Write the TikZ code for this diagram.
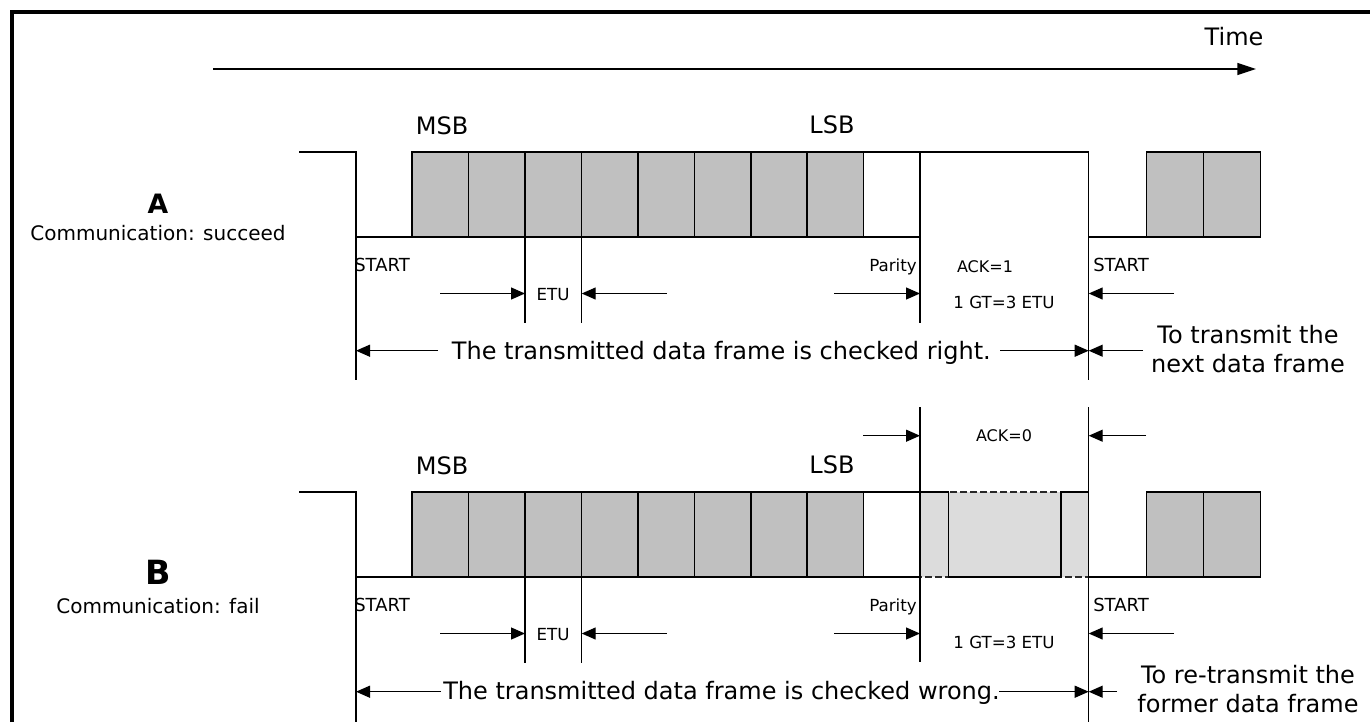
\documentclass[tikz,border=0pt]{standalone}
\usepackage{fontspec}
\setmainfont{DejaVu Sans}
\usetikzlibrary{arrows.meta}
\definecolor{bitgray}{RGB}{192,192,192}
\definecolor{ackgray}{RGB}{220,220,220}
\definecolor{dashgray}{RGB}{40,40,40}
\tikzset{
  wave/.style={line width=1.1pt},
  bitbox/.style={draw=black, line width=1.1pt, fill=bitgray},
  dimarrow/.style={line width=0.95pt, -{Triangle[length=10.5pt,width=9pt]}},
  timearrow/.style={line width=1pt, -{Triangle[length=14pt,width=9pt]}},
  bigtext/.style={font=\fontsize{18}{21}\selectfont, inner sep=0pt, anchor=base},
  smalltext/.style={font=\fontsize{12.5}{15}\selectfont, inner sep=0pt, anchor=base},
  acktext/.style={font=\fontsize{12}{14}\selectfont, inner sep=0pt, anchor=base},
  starttext/.style={font=\fontsize{13.5}{16}\selectfont, inner sep=0pt, anchor=base west},
  commtext/.style={font=\fontsize{15}{18}\selectfont, inner sep=0pt, anchor=base},
  labeltext/.style={font=\bfseries\fontsize{#1}{#1}\selectfont, inner sep=0pt, anchor=base},
}
\begin{document}
\begin{tikzpicture}[x=0.75pt,y=-0.75pt]
\useasboundingbox (0,0) rectangle (1370,722);
% frame
\draw[line width=3pt] (11.5,722) -- (11.5,11.5) -- (1370,11.5);

% time axis
\coordinate (t0) at (213,69);
\coordinate (t1) at (1256,69);
\draw[timearrow] (t0) -- (t1);
\node[bigtext] (time) at (1234,45) {Time};

% row labels
\node[labeltext=20] (labA) at (158,213) {A};
\node[commtext] (commA) at (158,240) {Communication: succeed};
\node[labeltext=25] (labB) at (158,584) {B};
\node[commtext] (commB) at (158,613) {Communication: fail};

% B: ACK=0 pulled-low region (drawn first, below lines)
\fill[ackgray] (920,492) rectangle (1088.7,577);
\draw[line width=1.1pt, dashgray, dash pattern=on 5.5pt off 2pt] (920,492) rectangle (1088.7,577);
\draw[wave] (920,492) -- (948.3,492) -- (948.3,577) -- (1061,577) -- (1061,492) -- (1088.7,492);

\foreach \r/\oy in {a/0,b/340}{
  % waveform
  \draw[wave] (299,{152+\oy}) -- (356,{152+\oy}) -- (356,{237+\oy}) -- (412,{237+\oy});
  \foreach \i in {0,...,7}
    \draw[bitbox] ({412+56.46*\i},{152+\oy}) rectangle ({412+56.46*(\i+1)},{237+\oy});
  \draw[wave] (863.7,{152+\oy}) -- (920,{152+\oy});
  \draw[wave] (863.7,{237+\oy}) -- (920,{237+\oy});
  \draw[wave] (1088.7,{237+\oy}) -- (1146.5,{237+\oy});
  \draw[bitbox] (1146.5,{152+\oy}) rectangle (1203.5,{237+\oy});
  \draw[bitbox] (1203.5,{152+\oy}) rectangle (1260.5,{237+\oy});
  % ETU marker lines
  \draw[wave] (525,{237+\oy}) -- (525,{322.7+\oy});
  \draw[wave] (581.7,{237+\oy}) -- (581.7,{322.7+\oy});
  % labels
  \node[bigtext] (msb\r) at (442,{134+\oy}) {MSB};
  \node[bigtext] (lsb\r) at (832,{133.5+\oy}) {LSB};
  \node[starttext] (st\r) at (354,{271+\oy}) {START};
  \node[smalltext] (etu\r) at (553,{300+\oy}) {ETU};
  \node[smalltext, anchor=base east] (par\r) at (917,{271.5+\oy}) {Parity};
  \node[starttext] (sttwo\r) at (1093,{271.5+\oy}) {START};
  \node[smalltext] (gt\r) at (1004,{308+\oy}) {1 GT=3 ETU};
  % dimension arrows
  \coordinate (eas\r) at (440,{293.5+\oy});   \coordinate (eae\r) at (525,{293.5+\oy});
  \coordinate (ebs\r) at (666.7,{293.5+\oy}); \coordinate (ebe\r) at (581.7,{293.5+\oy});
  \coordinate (pas\r) at (834,{293.5+\oy});   \coordinate (pae\r) at (920,{293.5+\oy});
  \coordinate (pbs\r) at (1174,{293.5+\oy});  \coordinate (pbe\r) at (1088.7,{293.5+\oy});
  \draw[dimarrow] (eas\r) -- (eae\r);
  \draw[dimarrow] (ebs\r) -- (ebe\r);
  \draw[dimarrow] (pas\r) -- (pae\r);
  \draw[dimarrow] (pbs\r) -- (pbe\r);
}

% row A specifics
\draw[wave] (920,152) -- (1088.7,152);
\draw[wave] (356,152) -- (356,380);
\draw[wave] (920,152) -- (920,322.7);
\draw[wave] (1088.7,152) -- (1088.7,380);
\node[acktext] (ackone) at (985,272) {ACK=1};
\node[bigtext, anchor=base west] (frA) at (451.7,359) {The transmitted data frame is checked right.};
\coordinate (fas) at (438,350.7);   \coordinate (fae) at (356,350.7);
\coordinate (fbs) at (1000,350.7);  \coordinate (fbe) at (1088.7,350.7);
\coordinate (fcs) at (1143,350.7);  \coordinate (fce) at (1088.7,350.7);
\draw[dimarrow] (fas) -- (fae);
\draw[dimarrow] (fbs) -- (fbe);
\draw[dimarrow] (fcs) -- (fce);
\node[bigtext] (nxone) at (1248,343) {To transmit the};
\node[bigtext] (nxtwo) at (1248,372) {next data frame};

% row B specifics
\draw[wave] (356,492) -- (356,722);
\draw[wave] (920,407) -- (920,662);
\draw[wave] (1088.7,407) -- (1088.7,722);
\node[acktext] (ackzero) at (1004,441) {ACK=0};
\coordinate (kas) at (863.3,435.7); \coordinate (kae) at (920,435.7);
\coordinate (kbs) at (1146,435.7);  \coordinate (kbe) at (1088.7,435.7);
\draw[dimarrow] (kas) -- (kae);
\draw[dimarrow] (kbs) -- (kbe);
\node[bigtext, anchor=base west] (frB) at (443,699.7) {The transmitted data frame is checked wrong.};
\coordinate (gas) at (441,691.7);   \coordinate (gae) at (356,691.7);
\coordinate (gbs) at (999,691.7);   \coordinate (gbe) at (1088.7,691.7);
\coordinate (gcs) at (1117,691.7);  \coordinate (gce) at (1088.7,691.7);
\draw[dimarrow] (gas) -- (gae);
\draw[dimarrow] (gbs) -- (gbe);
\draw[dimarrow] (gcs) -- (gce);
\node[bigtext] (rtone) at (1248,683.5) {To re-transmit the};
\node[bigtext] (rttwo) at (1248,712) {former data frame};
\end{tikzpicture}
\end{document}
